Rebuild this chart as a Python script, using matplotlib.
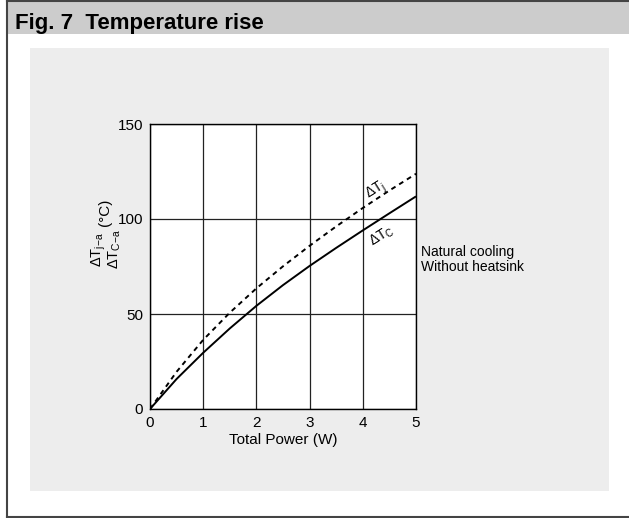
import matplotlib
matplotlib.use("Agg")
import matplotlib.pyplot as plt
from matplotlib.patches import Rectangle
from matplotlib.lines import Line2D

plt.rcParams['font.family'] = ['Liberation Sans', 'DejaVu Sans']
plt.rcParams['mathtext.fontset'] = 'custom'
plt.rcParams['mathtext.rm'] = 'Liberation Sans'
plt.rcParams['mathtext.it'] = 'Liberation Sans'

# data
power = [0, 0.5, 1, 1.5, 2, 2.5, 3, 3.5, 4, 4.5, 5]
dt_c = [0, 15.8, 29.6, 42.4, 54.3, 65.2, 75.3, 84.8, 94.0, 103.0, 111.9]
dt_j = [0, 19.6, 36.4, 50.7, 63.5, 75.1, 85.9, 96.1, 105.8, 115.0, 123.8]
x_ticks = [0, 1, 2, 3, 4, 5]
y_ticks = [0, 50, 100, 150]

W, H = 629, 518
fig = plt.figure(figsize=(W / 100, H / 100), dpi=100)
fig.patch.set_facecolor('white')

def px_rect(x0, y0, x1, y1, **kw):
    # rectangle given in pixel coords (origin top-left)
    r = Rectangle((x0 / W, 1 - y1 / H), (x1 - x0) / W, (y1 - y0) / H,
                  transform=fig.transFigure, **kw)
    fig.patches.append(r)

def px_line(xs, ys, **kw):
    fig.lines.append(Line2D([x / W for x in xs], [1 - y / H for y in ys],
                            transform=fig.transFigure, **kw))

# title bar, frame lines and grey panel
px_rect(7, 0, 629, 34, facecolor='#cccccc', edgecolor='none', zorder=0)
px_rect(30, 48, 609, 491, facecolor='#ededed', edgecolor='none', zorder=0)
px_line([7, 629], [1, 1], color='#444444', linewidth=1.5)
px_line([7, 7], [0, 517], color='#444444', linewidth=1.5)
px_line([7, 629], [516.5, 516.5], color='#444444', linewidth=1.5)
fig.text(15 / W, 1 - 23 / H, 'Fig. 7  Temperature rise', fontsize=16,
         fontweight='bold', va='center', ha='left')

ax = fig.add_axes([150 / W, 1 - 409 / H, 266 / W, 285 / H])
ax.set_zorder(3)
ax.set_facecolor('white')
ax.plot(power, dt_c, color='black', linewidth=1.4, solid_capstyle='butt')
ax.plot(power, dt_j, color='black', linewidth=1.4, linestyle=(0, (2.5, 2.2)))

ax.set_xlim(0, 5)
ax.set_ylim(0, 150)
ax.set_xticks(x_ticks)
ax.set_yticks(y_ticks)
ax.grid(True, color='#222222', linewidth=0.9)
ax.tick_params(length=0, labelsize=11, pad=5)
for s in ax.spines.values():
    s.set_linewidth(1.0)
    s.set_color('black')
ax.set_xlabel('Total Power (W)', fontsize=11, labelpad=2)

ax.text(4.25, 115, r'$\Delta$T$_\mathrm{j}$', fontsize=10, rotation=32,
        ha='center', va='center')
ax.text(4.35, 91, r'$\Delta$T$_\mathrm{C}$', fontsize=10, rotation=32,
        ha='center', va='center')
ax.text(5.1, 86.5, 'Natural cooling\nWithout heatsink', fontsize=10,
        ha='left', va='top', linespacing=1.15)

# y label: two stacked quantities plus unit
fig.text(106 / W, 1 - 249 / H,
         r'$\Delta$T$_\mathrm{j\!-\!a}$' + '\n' + r'$\Delta$T$_\mathrm{C\!-\!a}$',
         fontsize=10.5, rotation=90, ha='center', va='center',
         multialignment='center', linespacing=0.9)
fig.text(105 / W, 1 - 212 / H, '(°C)', fontsize=11, rotation=90,
         ha='center', va='center')

fig.savefig('out.png', dpi=100)
